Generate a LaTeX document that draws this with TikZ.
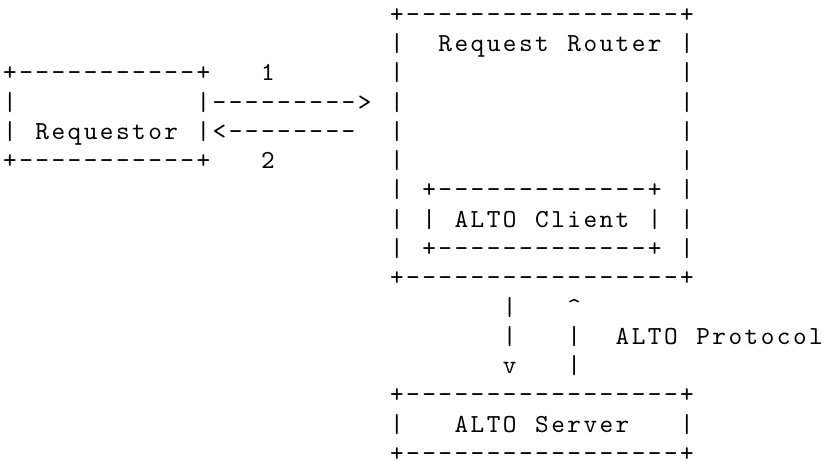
\documentclass[tikz,border=0pt]{standalone}
\usepackage{fontspec}
\newfontfamily\asciifont{lmmono10-regular}[Extension=.otf]
% Monospaced character grid: every character sits centred in a fixed-width cell
\makeatletter
\newlength\asciicell
\setlength\asciicell{16.12pt}
\def\cells#1{\cells@next#1\relax}
\def\cells@next#1{\ifx#1\relax\else\makebox[\asciicell][c]{#1}\expandafter\cells@next\fi}
\makeatother
% \asciirow{name}{column}{line}{characters}; ~ stands for a blank cell
\newcommand\asciirow[4]{\node[ascii] (#1) at ({1.94+16.12*#2},{-(22.5+29.25*#3)}) {\cells{#4}};}

\begin{document}
\begin{tikzpicture}[x=1pt,y=1pt,
  ascii/.style={font=\asciifont\fontsize{26pt}{29pt}\selectfont,
    inner sep=0pt, outer sep=0pt, text depth=0pt, anchor=base west, text=black}]
\fill[white] (0,0) rectangle (824,-462);
\useasboundingbox (0,0) rectangle (824,-462);

% Request Router box with the ALTO Client inside
\asciirow{rrTop}{24}{0}{+-----------------+}
\asciirow{rrName}{24}{1}{|~~Request~Router~|}
\asciirow{rrSideA}{24}{2}{|~~~~~~~~~~~~~~~~~|}
\asciirow{rrSideB}{24}{3}{|~~~~~~~~~~~~~~~~~|}
\asciirow{rrSideC}{24}{4}{|~~~~~~~~~~~~~~~~~|}
\asciirow{rrSideD}{24}{5}{|~~~~~~~~~~~~~~~~~|}
\asciirow{clientTop}{24}{6}{|~+-------------+~|}
\asciirow{clientName}{24}{7}{|~|~ALTO~Client~|~|}
\asciirow{clientBot}{24}{8}{|~+-------------+~|}
\asciirow{rrBot}{24}{9}{+-----------------+}

% Requestor box
\asciirow{reqTop}{0}{2}{+-----------+}
\asciirow{reqSide}{0}{3}{|~~~~~~~~~~~|}
\asciirow{reqName}{0}{4}{|~Requestor~|}
\asciirow{reqBot}{0}{5}{+-----------+}

% Request and response arrows with their step numbers
\asciirow{stepOne}{16}{2}{1}
\asciirow{arrowReq}{13}{3}{--------->}
\asciirow{arrowResp}{13}{4}{<--------}
\asciirow{stepTwo}{16}{5}{2}

% ALTO protocol exchange
\asciirow{downA}{31}{10}{|}
\asciirow{upHead}{35}{10}{\textasciicircum}
\asciirow{downB}{31}{11}{|}
\asciirow{upA}{35}{11}{|}
\asciirow{protoLabel}{38}{11}{ALTO~Protocol}
\asciirow{downHead}{31}{12}{v}
\asciirow{upB}{35}{12}{|}

% ALTO Server box
\asciirow{srvTop}{24}{13}{+-----------------+}
\asciirow{srvName}{24}{14}{|~~~ALTO~Server~~~|}
\asciirow{srvBot}{24}{15}{+-----------------+}
\end{tikzpicture}
\end{document}
